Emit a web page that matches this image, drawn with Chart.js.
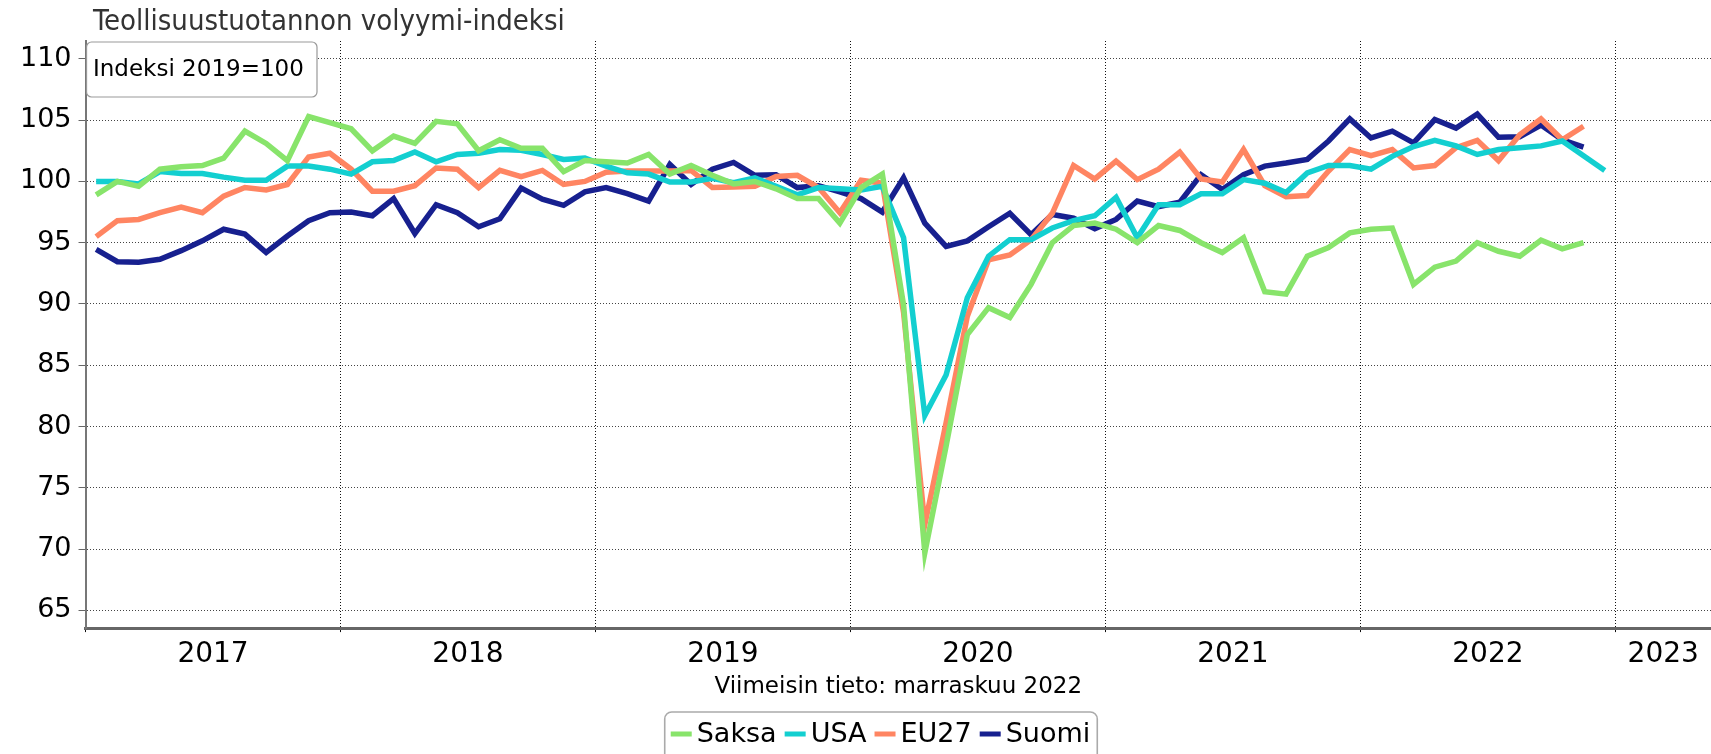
<!DOCTYPE html>
<html lang="fi">
<head>
<meta charset="utf-8">
<title>Teollisuustuotannon volyymi-indeksi</title>
<script src="https://cdn.jsdelivr.net/npm/chart.js@4/dist/chart.umd.min.js"></script>
<style>
  html, body { margin: 0; padding: 0; background: #fff; }
  #wrap { width: 1711px; height: 754px; position: relative; }
</style>
</head>
<body>
<div id="wrap"><canvas id="chart"></canvas></div>
<script>
// Kuukausiarvot tammikuusta 2017 alkaen, indeksi 2019=100
const otsikko = 'Teollisuustuotannon volyymi-indeksi';
const selite = 'Indeksi 2019=100';
const viimeisin = 'Viimeisin tieto: marraskuu 2022';
const vuodet = ['2017', '2018', '2019', '2020', '2021', '2022', '2023'];

const saksa = [
  98.9, 100.0, 99.6, 101.0, 101.2, 101.3, 101.9, 104.1, 103.1, 101.7, 105.3, 104.8,
  104.3, 102.5, 103.7, 103.1, 104.9, 104.7, 102.5, 103.4, 102.7, 102.7, 100.8, 101.7,
  101.6, 101.5, 102.2, 100.6, 101.3, 100.5, 99.8, 100.0, 99.4, 98.6, 98.6, 96.6,
  99.5, 100.6, 89.9, 69.7, 78.4, 87.5, 89.7, 88.9, 91.6, 95.0, 96.4, 96.6,
  96.1, 95.0, 96.4, 96.0, 95.0, 94.2, 95.4, 91.0, 90.8, 93.9, 94.6, 95.8,
  96.1, 96.2, 91.6, 93.0, 93.5, 95.0, 94.3, 93.9, 95.2, 94.5, 95.0
];
const usa = [
  100.0, 100.0, 99.8, 100.8, 100.65, 100.65, 100.35, 100.1, 100.1, 101.25, 101.25, 101.0,
  100.6, 101.6, 101.7, 102.4, 101.6, 102.2, 102.3, 102.6, 102.55, 102.2, 101.8, 101.9,
  101.25, 100.7, 100.6, 99.95, 99.95, 100.25, 99.9, 100.3, 99.6, 98.9, 99.5, 99.4,
  99.3, 99.6, 95.4, 80.9, 84.2, 90.5, 93.9, 95.25, 95.25, 96.2, 96.8, 97.2,
  98.7, 95.4, 98.1, 98.1, 99.0, 99.0, 100.15, 99.85, 99.1, 100.7, 101.3, 101.3,
  101.0, 102.05, 102.85, 103.35, 102.9, 102.2, 102.6, 102.75, 102.9, 103.3, 102.1, 100.9
];
const eu27 = [
  95.5, 96.8, 96.9, 97.45, 97.9, 97.45, 98.8, 99.5, 99.3, 99.75, 102.0, 102.3,
  101.0, 99.2, 99.2, 99.65, 101.1, 101.0, 99.5, 100.9, 100.4, 100.9, 99.75, 100.0,
  100.75, 100.85, 100.85, 100.85, 100.9, 99.5, 99.55, 99.6, 100.4, 100.5, 99.5, 97.45,
  100.1, 99.85, 89.3, 72.0, 80.3, 89.0, 93.6, 94.0, 95.25, 97.4, 101.3, 100.2,
  101.65, 100.15, 101.0, 102.4, 100.2, 99.95, 102.6, 99.65, 98.75, 98.85, 100.85, 102.6,
  102.1, 102.6, 101.1, 101.3, 102.75, 103.35, 101.7, 103.8, 105.1, 103.4, 104.5
];
const suomi = [
  94.45, 93.45, 93.4, 93.65, 94.35, 95.15, 96.1, 95.7, 94.2, 95.55, 96.8, 97.45,
  97.5, 97.2, 98.6, 95.75, 98.1, 97.45, 96.3, 96.95, 99.45, 98.55, 98.05, 99.15,
  99.5, 99.0, 98.4, 101.4, 99.75, 101.0, 101.55, 100.5, 100.55, 99.5, 99.65, 99.15,
  98.6, 97.5, 100.3, 96.6, 94.7, 95.15, 96.3, 97.4, 95.65, 97.3, 97.0, 96.15,
  96.9, 98.4, 97.95, 98.3, 100.55, 99.35, 100.55, 101.25, 101.5, 101.8, 103.3, 105.1,
  103.55, 104.1, 103.15, 105.05, 104.35, 105.5, 103.6, 103.65, 104.6, 103.4, 102.8
];

const yTicks = [65, 70, 75, 80, 85, 90, 95, 100, 105, 110];

// kuukausi i piirretään kuukauden keskelle
function pisteet(arvot) {
  return arvot.map((v, i) => ({ x: i + 0.5, y: v }));
}

// vuosirajat ja vuosien keskikohdat x-akselille
const xMax = 76.5;
const xTicks = [];
vuodet.forEach((v, k) => {
  xTicks.push(k * 12);
  const loppu = Math.min(k * 12 + 12, xMax);
  xTicks.push((k * 12 + loppu) / 2);
});
function vuosiLabel(value) {
  if (value % 12 === 0) return '';
  return vuodet[Math.floor(value / 12)];
}

const lisat = {
  id: 'lisat',
  afterDraw(chart) {
    const ctx = chart.ctx;
    const area = chart.chartArea;
    ctx.save();

    // otsikko
    ctx.font = '29px "DejaVu Sans Condensed", "DejaVu Sans", sans-serif';
    ctx.fillStyle = '#333';
    ctx.textAlign = 'left';
    ctx.textBaseline = 'middle';
    ctx.fillText(otsikko, 93, 22);

    // selitelaatikko
    ctx.beginPath();
    ctx.roundRect(area.left + 1, area.top + 1, 316 - area.left, 96 - area.top, 5);
    ctx.fillStyle = '#fff';
    ctx.fill();
    ctx.strokeStyle = '#999';
    ctx.lineWidth = 1.2;
    ctx.stroke();
    ctx.font = '23px "DejaVu Sans", sans-serif';
    ctx.fillStyle = '#000';
    ctx.fillText(selite, 93, 70);

    // legenda
    ctx.font = '27px "DejaVu Sans", sans-serif';
    const items = chart.data.datasets.map(ds => ({
      label: ds.label, color: ds.borderColor, w: ctx.measureText(ds.label).width
    }));
    let total = 13;
    items.forEach((it, k) => { total += 26 + it.w + (k < items.length - 1 ? 8 : 0); });
    let x = 881 - total / 2;
    ctx.beginPath();
    ctx.roundRect(x, 712, total, 60, 7);
    ctx.strokeStyle = '#aaa';
    ctx.lineWidth = 1.6;
    ctx.stroke();
    x += 6;
    items.forEach(it => {
      ctx.fillStyle = it.color;
      ctx.fillRect(x, 731.5, 21, 5);
      x += 26;
      ctx.fillStyle = '#000';
      ctx.fillText(it.label, x, 735);
      x += it.w + 8;
    });
    ctx.restore();
  }
};

const sarja = (label, arvot, color) => ({
  label: label,
  data: pisteet(arvot),
  borderColor: color,
  backgroundColor: color,
  borderWidth: 5.5,
  pointRadius: 0,
  tension: 0,
  fill: false
});

new Chart(document.getElementById('chart'), {
  type: 'line',
  data: {
    datasets: [
      sarja('Saksa', saksa, '#88e46b'),
      sarja('USA', usa, '#13cfd0'),
      sarja('EU27', eu27, '#ff8562'),
      sarja('Suomi', suomi, '#17208f')
    ]
  },
  options: {
    responsive: true,
    maintainAspectRatio: false,
    animation: false,
    layout: { padding: { top: 41, left: 13, right: 0, bottom: 56.6 } },
    plugins: {
      legend: { display: false },
      title: { display: false },
      tooltip: { enabled: false }
    },
    scales: {
      x: {
        type: 'linear',
        min: 0,
        max: xMax,
        afterBuildTicks: axis => { axis.ticks = xTicks.map(v => ({ value: v })); },
        ticks: {
          autoSkip: false,
          maxRotation: 0,
          padding: 5.5,
          color: '#000',
          font: { family: '"DejaVu Sans", sans-serif', size: 28 },
          callback: value => vuosiLabel(value)
        },
        grid: {
          color: c => (c.tick && c.tick.value % 12 === 0) ? '#111' : 'rgba(0,0,0,0)',
          tickColor: c => (c.tick && c.tick.value % 12 === 0) ? '#111' : 'rgba(0,0,0,0)',
          tickLength: 4,
          lineWidth: 1
        },
        border: { color: '#666', width: 3, dash: [1, 2] },
        title: {
          display: true,
          text: viimeisin,
          color: '#000',
          font: { family: '"DejaVu Sans", sans-serif', size: 23, lineHeight: 0.9 },
          padding: { top: 0, bottom: 0 }
        }
      },
      y: {
        min: 63.55,
        max: 111.46,
        afterBuildTicks: axis => { axis.ticks = yTicks.map(v => ({ value: v })); },
        ticks: {
          padding: 7,
          color: '#000',
          font: { family: '"DejaVu Sans", sans-serif', size: 27 }
        },
        grid: {
          color: '#444',
          tickColor: '#666',
          tickLength: 7,
          lineWidth: 1
        },
        border: { color: '#777', width: 2, dash: [1, 2] }
      }
    }
  },
  plugins: [lisat]
});
</script>
</body>
</html>
